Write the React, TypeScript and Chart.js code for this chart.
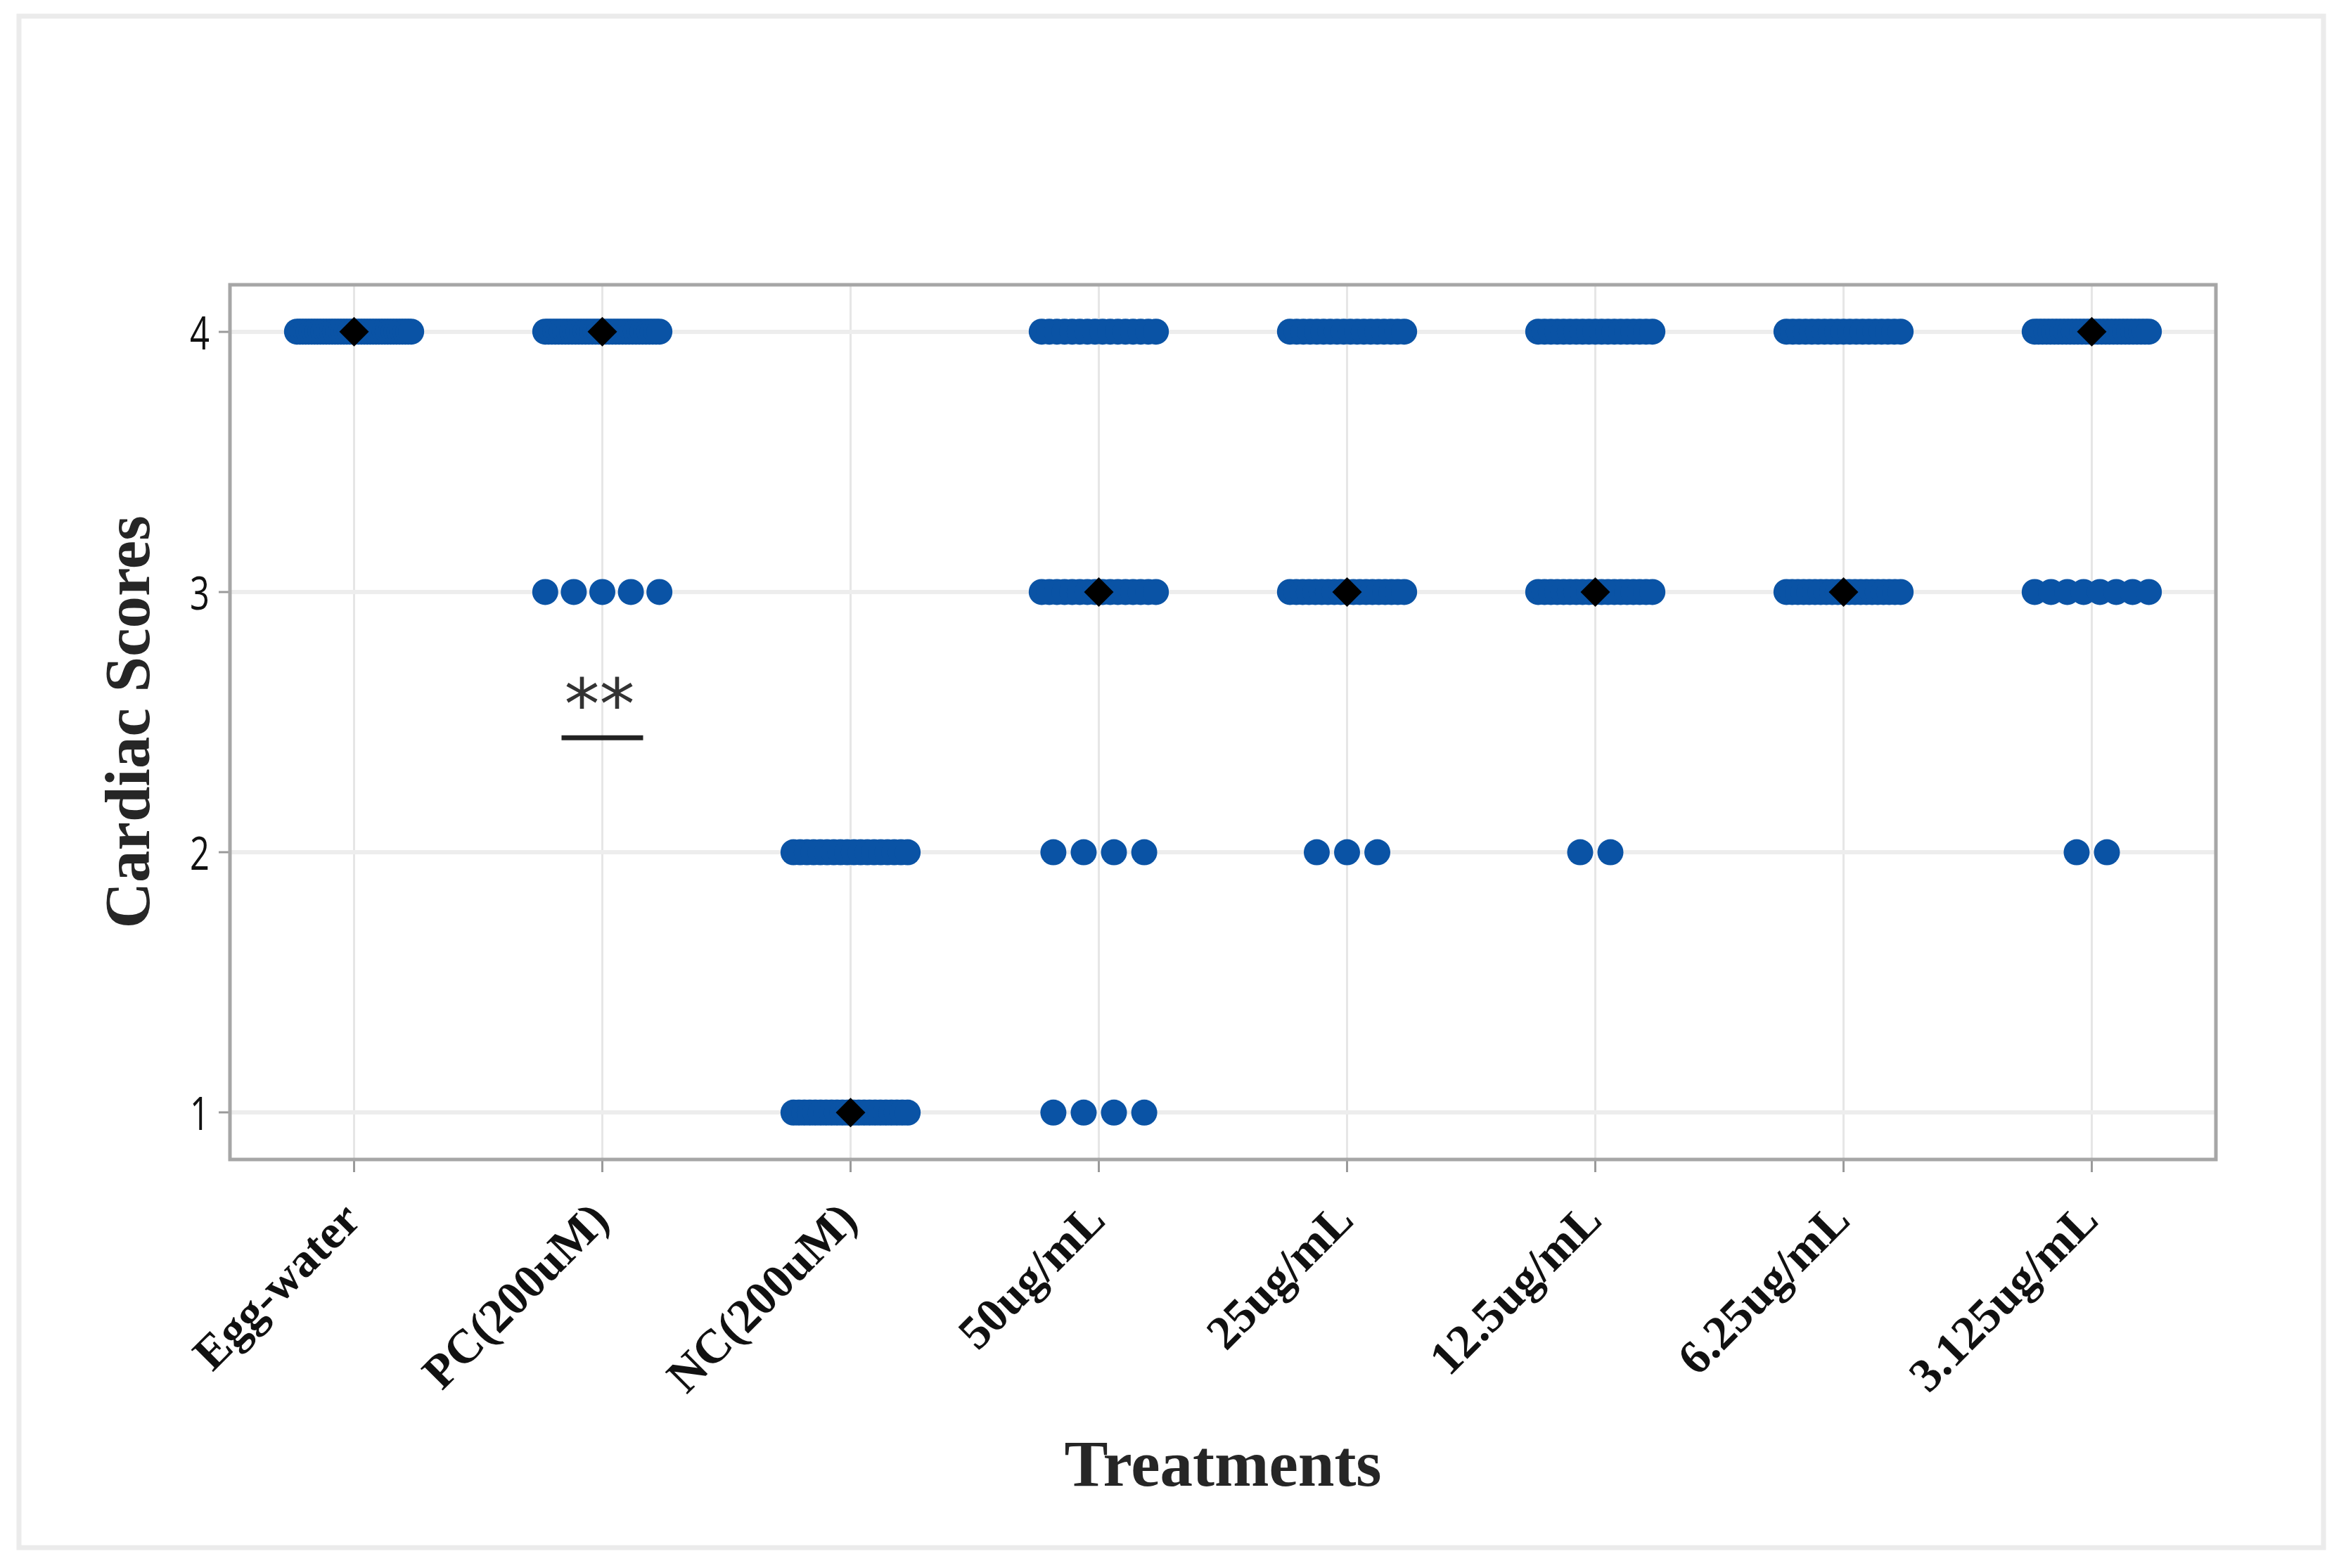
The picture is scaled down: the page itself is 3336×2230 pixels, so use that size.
import React, { useEffect, useRef } from 'react';
import { Chart, registerables } from 'chart.js';

Chart.register(...registerables);

// ---- Data ----
const categories = [
  'Egg-water',
  'PC(200uM)',
  'NC(200uM)',
  '50ug/mL',
  '25ug/mL',
  '12.5ug/mL',
  '6.25ug/mL',
  '3.125ug/mL',
];
const scoreLevels = [4, 3, 2, 1];
// number of larvae with each cardiac score, per treatment
const countsScore4 = [40, 35, 0, 16, 18, 19, 19, 30];
const countsScore3 = [0, 5, 0, 16, 19, 19, 21, 8];
const countsScore2 = [0, 0, 18, 4, 3, 2, 0, 2];
const countsScore1 = [0, 0, 22, 4, 0, 0, 0, 0];
// median score symbol per treatment
const medianScores = [4, 4, 1, 3, 3, 3, 3, 4];
const yTickValues = [1, 2, 3, 4];
// significance annotation
const sigMark = '**';
const sigCategoryIndex = 1;
const sigLineY = 2.44;

// ---- Styling constants ----
const W = 3336;
const H = 2230;
const DOT_GAP = 0.122; // horizontal gap between neighbouring dots (category units)
const MAX_SPREAD = 0.46; // max width of a dot row (category units)
const DOT_COLOR = '#0A53A5';

function buildPoints() {
  const countsByScore: Record<number, number[]> = {
    4: countsScore4,
    3: countsScore3,
    2: countsScore2,
    1: countsScore1,
  };
  const pts: { x: number; y: number }[] = [];
  categories.forEach((_, ci) => {
    scoreLevels.forEach((s) => {
      const n = countsByScore[s][ci];
      if (!n) return;
      const gap = n > 1 ? Math.min(DOT_GAP, MAX_SPREAD / (n - 1)) : 0;
      for (let k = 0; k < n; k++) {
        pts.push({ x: ci + (k - (n - 1) / 2) * gap, y: s });
      }
    });
  });
  return pts;
}

const decorPlugin = {
  id: 'decor',
  beforeDraw(chart: any) {
    const { ctx } = chart;
    ctx.save();
    ctx.fillStyle = '#ffffff';
    ctx.fillRect(0, 0, W, H);
    ctx.strokeStyle = '#ebebeb';
    ctx.lineWidth = 7;
    ctx.strokeRect(27, 23, 3277, 2178);
    ctx.restore();
  },
  afterDraw(chart: any) {
    const { ctx, chartArea } = chart;
    const xs = chart.scales.x;
    const ys = chart.scales.y;
    ctx.save();
    // plot frame
    ctx.strokeStyle = '#a6a6a6';
    ctx.lineWidth = 5;
    ctx.strokeRect(
      chartArea.left,
      chartArea.top,
      chartArea.right - chartArea.left,
      chartArea.bottom - chartArea.top
    );

    // y tick labels (condensed sans)
    ctx.fillStyle = '#111111';
    ctx.font = '500 66px "Open Sans"';
    ctx.textAlign = 'right';
    ctx.textBaseline = 'alphabetic';
    yTickValues.forEach((v) => {
      const py = ys.getPixelForValue(v);
      ctx.save();
      ctx.translate(298, py + 25);
      ctx.scale(0.74, 1);
      ctx.fillText(String(v), 0, 0);
      ctx.restore();
    });

    // axis titles
    ctx.fillStyle = '#262626';
    ctx.font = 'bold 91px "Liberation Serif"';
    ctx.textAlign = 'center';
    ctx.textBaseline = 'alphabetic';
    ctx.save();
    ctx.translate(212, (chartArea.top + chartArea.bottom) / 2);
    ctx.rotate(-Math.PI / 2);
    ctx.fillText('Cardiac Scores', 0, 0);
    ctx.restore();

    ctx.font = 'bold 93px "Liberation Serif"';
    ctx.fillText('Treatments', (chartArea.left + chartArea.right) / 2, 2113);

    // significance mark
    const cx = xs.getPixelForValue(sigCategoryIndex);
    const ly = ys.getPixelForValue(sigLineY);
    ctx.strokeStyle = '#222222';
    ctx.lineWidth = 7;
    ctx.beginPath();
    ctx.moveTo(cx - 58, ly);
    ctx.lineTo(cx + 58, ly);
    ctx.stroke();
    ctx.fillStyle = '#333333';
    ctx.font = '100px "DejaVu Sans"';
    ctx.textAlign = 'center';
    ctx.fillText(sigMark, cx - 4, ly - 12);
    ctx.restore();
  },
};

export default function App() {
  const canvasRef = useRef<HTMLCanvasElement | null>(null);

  useEffect(() => {
    const canvas = canvasRef.current;
    if (!canvas) return;
    const chart = new Chart(canvas, {
      type: 'scatter',
      data: {
        datasets: [
          {
            label: 'Median',
            data: medianScores.map((m, i) => ({ x: i, y: m })),
            pointStyle: 'rectRot',
            pointRadius: 21,
            pointHoverRadius: 21,
            backgroundColor: '#000000',
            borderColor: '#000000',
            borderWidth: 0,
            order: 0,
          },
          {
            label: 'Cardiac score',
            data: buildPoints(),
            pointStyle: 'circle',
            pointRadius: 18.5,
            pointHoverRadius: 18.5,
            backgroundColor: DOT_COLOR,
            borderColor: DOT_COLOR,
            borderWidth: 0,
            order: 1,
          },
        ],
      },
      options: {
        animation: false,
        responsive: false,
        maintainAspectRatio: false,
        devicePixelRatio: 1,
        events: [],
        layout: { padding: { left: 0, top: 405, right: 185, bottom: 0 } },
        plugins: {
          legend: { display: false },
          tooltip: { enabled: false },
          title: { display: false },
        },
        scales: {
          x: {
            type: 'linear',
            min: -0.5,
            max: 7.5,
            afterBuildTicks: (s: any) => {
              s.ticks = categories.map((_, i) => ({ value: i }));
            },
            afterFit: (s: any) => {
              s.height = 581;
            },
            border: { display: false },
            grid: {
              color: '#e6e6e6',
              lineWidth: 3,
              drawTicks: true,
              tickLength: 18,
              tickColor: '#9a9a9a',
              tickWidth: 3,
            },
            ticks: {
              autoSkip: false,
              maxRotation: 45,
              minRotation: 45,
              padding: 30,
              color: '#111111',
              font: { family: '"Liberation Serif"', size: 68, weight: 'bold' },
              callback: (v: any) => categories[Math.round(Number(v))] ?? '',
            },
          },
          y: {
            type: 'linear',
            min: 0.82,
            max: 4.18,
            afterBuildTicks: (s: any) => {
              s.ticks = yTickValues.map((v) => ({ value: v }));
            },
            afterFit: (s: any) => {
              s.width = 327;
            },
            border: { display: false },
            grid: {
              color: '#ededed',
              lineWidth: 6,
              drawTicks: true,
              tickLength: 16,
              tickColor: '#9a9a9a',
              tickWidth: 3,
            },
            ticks: { display: false },
          },
        },
      },
      plugins: [decorPlugin],
    } as any);
    return () => chart.destroy();
  }, []);

  return (
    <div
      style={{
        position: 'fixed',
        left: 0,
        top: 0,
        width: W,
        height: H,
        background: '#ffffff',
      }}
    >
      <canvas ref={canvasRef} width={W} height={H} style={{ width: W, height: H, display: 'block' }} />
    </div>
  );
}
